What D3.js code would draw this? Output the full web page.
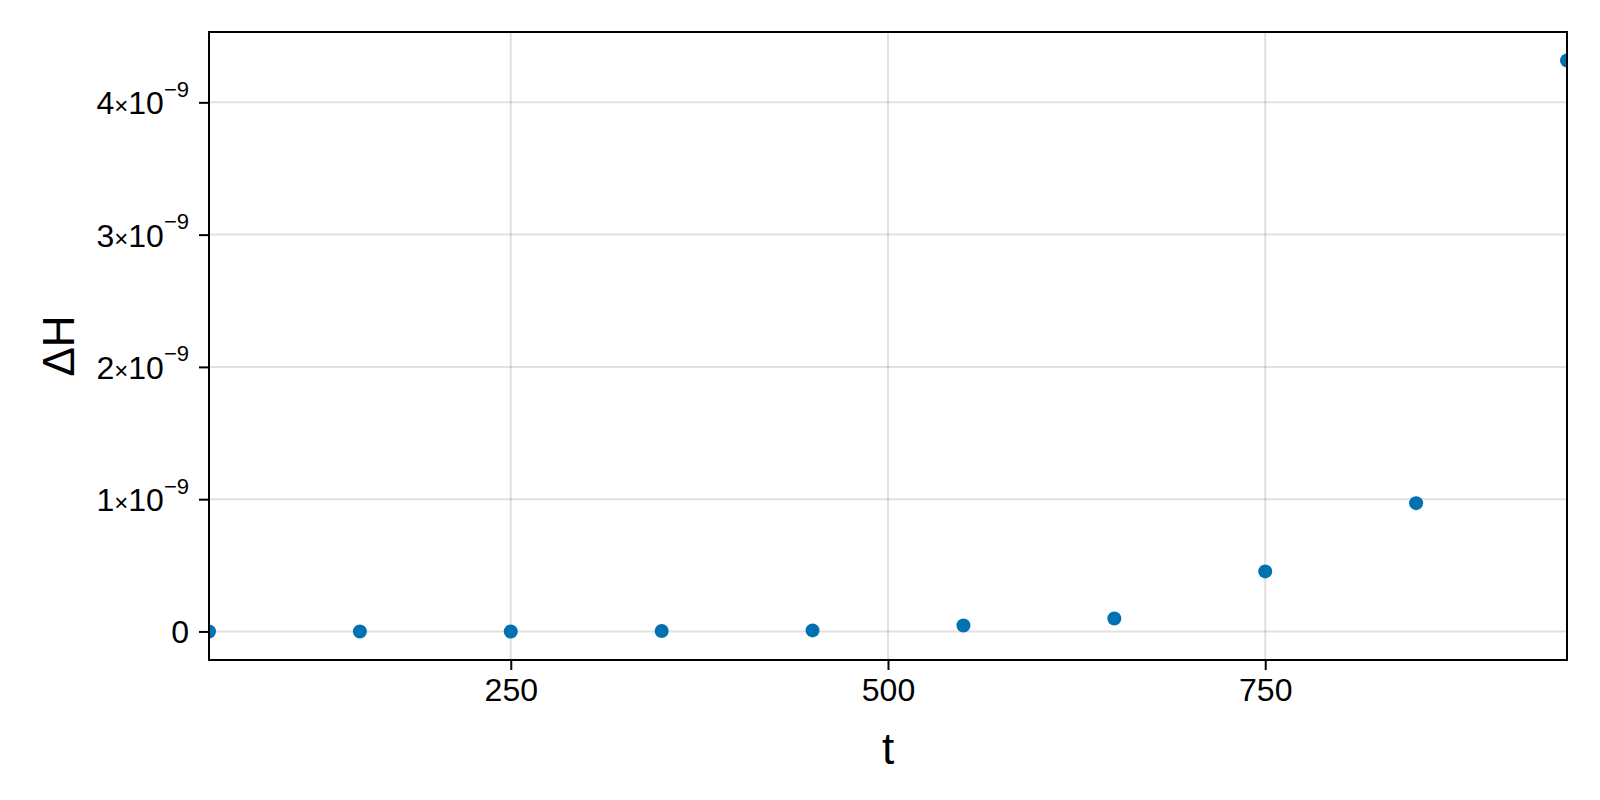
<!DOCTYPE html>
<html>
<head>
<meta charset="utf-8">
<script src="https://cdn.jsdelivr.net/npm/d3@7"></script>
<style>
  body { margin: 0; background: #fff; }
  text { font-family: "Liberation Sans", Arial, sans-serif; fill: #000; }
</style>
</head>
<body>
<div id="chart"></div>
<script>
  const width = 1600;
  const height = 800;

  // data
  const tValues = [50, 150, 250, 350, 450, 550, 650, 750, 850, 950];
  const deltaH = [0, 0, 0, 0.003e-9, 0.008e-9, 0.045e-9, 0.098e-9, 0.454e-9, 0.97e-9, 4.316e-9];
  const xTicks = [250, 500, 750];
  const yTickMantissas = [0, 1, 2, 3, 4];
  const yExponent = -9;

  const margin = { left: 209, right: 33, top: 32, bottom: 140 };
  const plotW = width - margin.left - margin.right;
  const plotH = height - margin.top - margin.bottom;

  const svg = d3.create("svg")
    .attr("width", width)
    .attr("height", height);

  const x = d3.scaleLinear()
    .domain(d3.extent(tValues))
    .range([margin.left, margin.left + plotW]);

  const [yMin, yMax] = d3.extent(deltaH);
  const pad = (yMax - yMin) * 0.05;
  const y = d3.scaleLinear()
    .domain([yMin - pad, yMax + pad])
    .range([margin.top + plotH, margin.top]);

  const yTicks = yTickMantissas.map(m => m * Math.pow(10, yExponent));

  // grid
  const grid = svg.append("g").attr("stroke", "rgba(0,0,0,0.12)").attr("stroke-width", 2);
  grid.selectAll("line.gx").data(xTicks).join("line")
    .attr("x1", d => x(d)).attr("x2", d => x(d))
    .attr("y1", margin.top).attr("y2", margin.top + plotH);
  grid.selectAll("line.gy").data(yTicks).join("line")
    .attr("class", "gy")
    .attr("y1", d => y(d)).attr("y2", d => y(d))
    .attr("x1", margin.left).attr("x2", margin.left + plotW);

  // clip for the markers
  svg.append("clipPath").attr("id", "plotclip")
    .append("rect")
    .attr("x", margin.left).attr("y", margin.top)
    .attr("width", plotW).attr("height", plotH);

  svg.append("g").attr("clip-path", "url(#plotclip)")
    .selectAll("circle")
    .data(tValues.map((t, i) => ({ t, v: deltaH[i] })))
    .join("circle")
    .attr("cx", d => x(d.t))
    .attr("cy", d => y(d.v))
    .attr("r", 7)
    .attr("fill", "#0072b2");

  // frame
  svg.append("rect")
    .attr("x", margin.left).attr("y", margin.top)
    .attr("width", plotW).attr("height", plotH)
    .attr("fill", "none").attr("stroke", "#000").attr("stroke-width", 2);

  // x axis
  const xAxis = d3.axisBottom(x).tickValues(xTicks).tickSize(10).tickPadding(8);
  const gx = svg.append("g")
    .attr("transform", `translate(0,${margin.top + plotH})`)
    .call(xAxis);
  gx.select(".domain").remove();
  gx.selectAll(".tick line").attr("stroke-width", 2);
  gx.selectAll(".tick text").attr("font-size", 32).attr("dy", "0.72em");

  // y axis with x10^-9 labels
  const yAxis = d3.axisLeft(y).tickValues(yTicks).tickSize(10).tickPadding(10).tickFormat("");
  const gy = svg.append("g")
    .attr("transform", `translate(${margin.left},0)`)
    .call(yAxis);
  gy.select(".domain").remove();
  gy.selectAll(".tick line").attr("stroke-width", 2);
  gy.selectAll(".tick text").each(function (d, i) {
    const el = d3.select(this)
      .attr("font-size", 32)
      .attr("dy", "0.36em")
      .attr("x", -20);
    const m = yTickMantissas[i];
    if (m === 0) {
      el.text("0");
      return;
    }
    el.append("tspan").text(m);
    el.append("tspan").attr("font-size", 24).text("\u00d7");
    el.append("tspan").text("10");
    el.append("tspan").attr("font-size", 22).attr("dy", "-0.8em").text("\u2212" + Math.abs(yExponent));
  });

  // axis labels
  svg.append("text")
    .attr("x", margin.left + plotW / 2)
    .attr("y", 764)
    .attr("text-anchor", "middle")
    .attr("font-size", 44)
    .text("t");

  svg.append("text")
    .attr("transform", `translate(74,${margin.top + plotH / 2}) rotate(-90)`)
    .attr("text-anchor", "middle")
    .attr("font-size", 44)
    .text("ΔH");

  document.getElementById("chart").appendChild(svg.node());
</script>
</body>
</html>
